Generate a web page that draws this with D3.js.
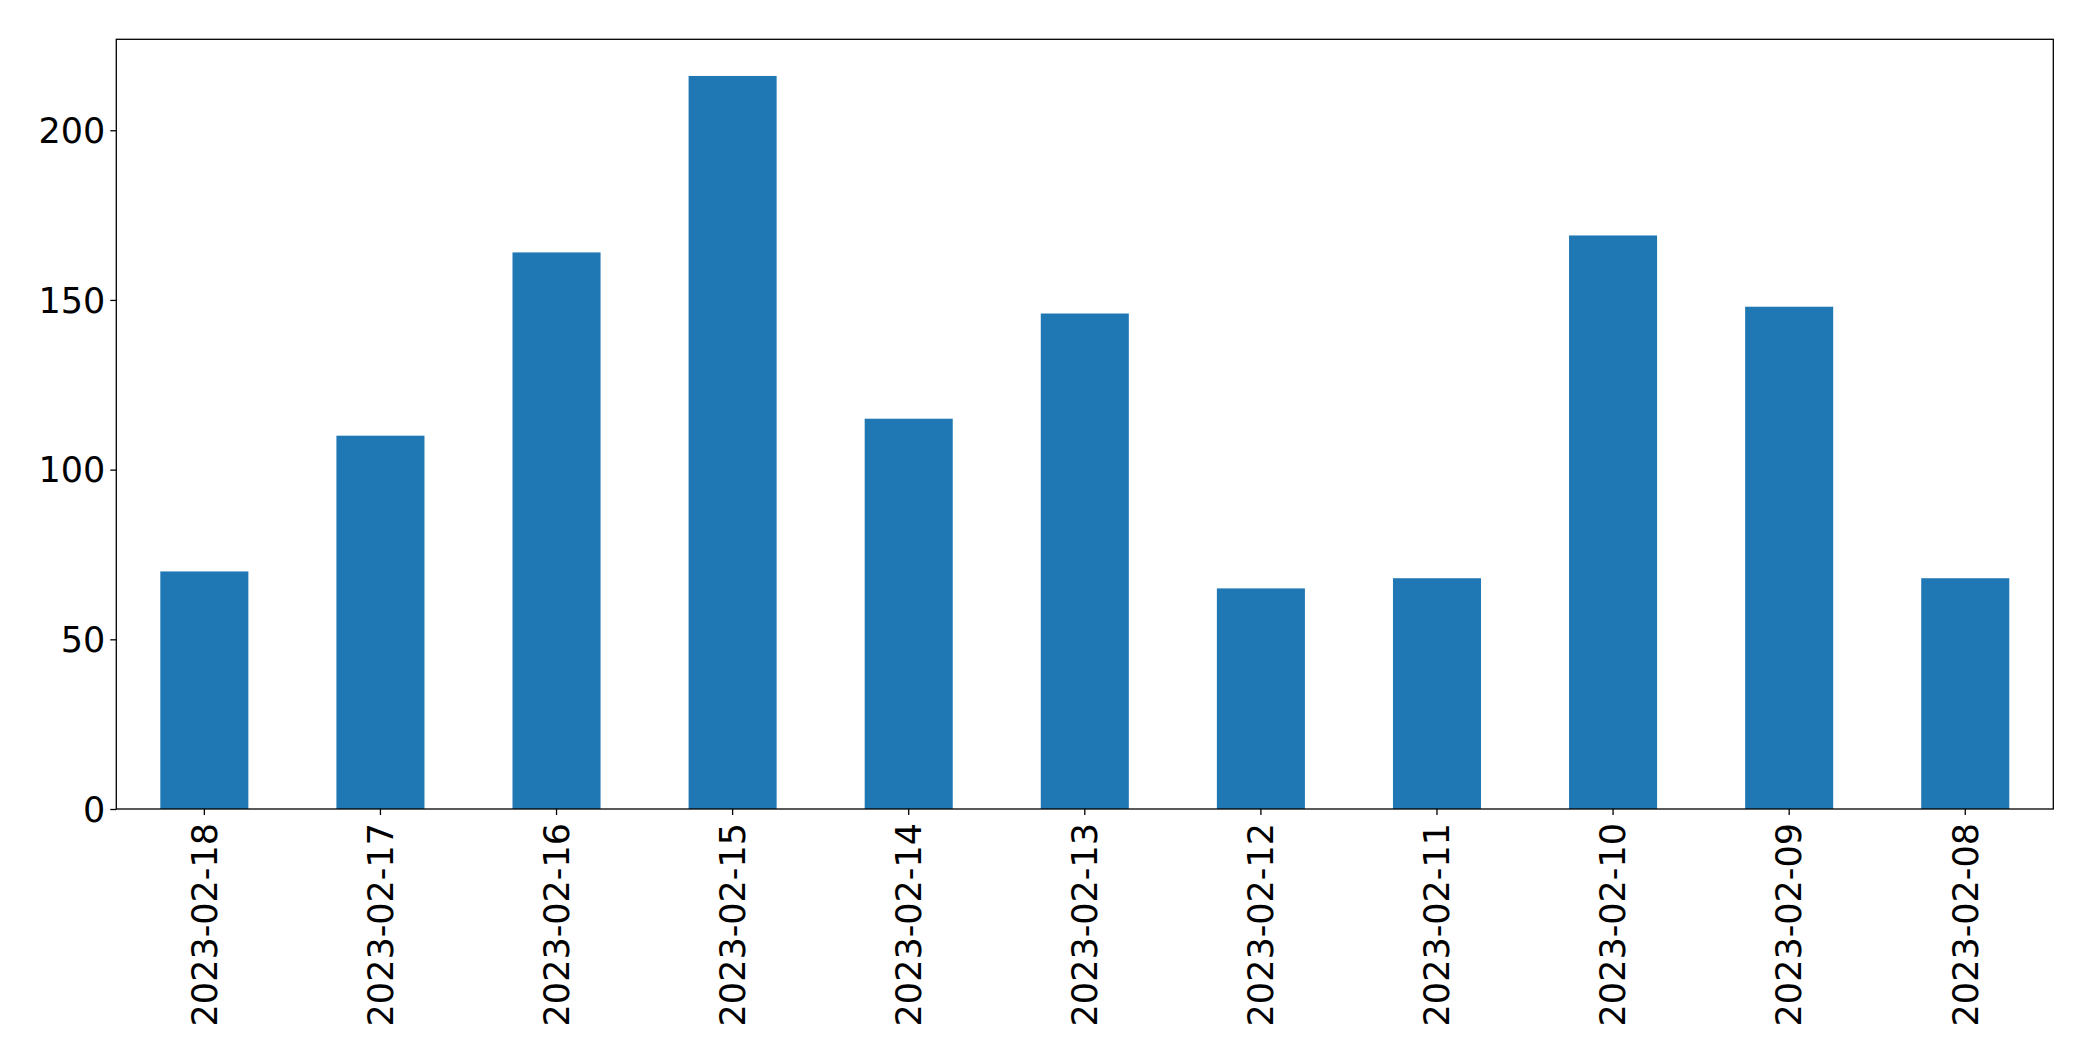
<!DOCTYPE html>
<html>
<head>
<meta charset="utf-8">
<script src="https://cdn.jsdelivr.net/npm/d3@7"></script>
<style>
html,body{margin:0;padding:0;background:#fff;}
svg{display:block;}
text{font-family:"DejaVu Sans",sans-serif;fill:#000;}
</style>
</head>
<body>
<svg id="chart" width="2093" height="1061"></svg>
<script>
const categories = ["2023-02-18","2023-02-17","2023-02-16","2023-02-15","2023-02-14","2023-02-13","2023-02-12","2023-02-11","2023-02-10","2023-02-09","2023-02-08"];
const values = [70,110,164,216,115,146,65,68,169,148,68];
const yTicks = [0,50,100,150,200];

(function () {
const svg = d3.select("#chart");
const mLeft = 116.3, mRight = 2053.3, mTop = 39.3, mBottom = 809;
const fontSize = 35;

const x = d3.scaleBand().domain(categories).range([mLeft, mRight]).paddingInner(0.5).paddingOuter(0.25);
const y = d3.scaleLinear().domain([0, d3.max(values) * 1.05]).range([mBottom, mTop]);

svg.append("g").selectAll("rect").data(values).join("rect")
  .attr("x", (d, i) => x(categories[i]))
  .attr("width", x.bandwidth())
  .attr("y", d => y(d))
  .attr("height", d => y(0) - y(d))
  .attr("fill", "#1f77b4");

// y axis
const yAxis = d3.axisLeft(y).tickValues(yTicks).tickSize(6).tickPadding(5).tickFormat(d3.format("d"));
const gy = svg.append("g").attr("transform", `translate(${mLeft},0)`).call(yAxis);
gy.select(".domain").remove();
gy.selectAll("line").attr("stroke", "#000").attr("stroke-width", 1.3);
gy.selectAll("text").attr("font-size", fontSize).attr("font-family", "DejaVu Sans").attr("dy", "0.35em");

// x axis
const xAxis = d3.axisBottom(x).tickSize(6).tickPadding(0);
const gx = svg.append("g").attr("transform", `translate(0,${mBottom})`).call(xAxis);
gx.select(".domain").remove();
gx.selectAll("line").attr("stroke", "#000").attr("stroke-width", 1.3);
gx.selectAll("text")
  .attr("font-size", fontSize)
  .attr("font-family", "DejaVu Sans")
  .attr("text-anchor", "end")
  .attr("transform", "translate(0,14) rotate(-90)")
  .attr("x", 0).attr("y", 0)
  .attr("dy", "0.35em");

// frame
svg.append("rect")
  .attr("x", mLeft).attr("y", mTop)
  .attr("width", mRight - mLeft).attr("height", mBottom - mTop)
  .attr("fill", "none").attr("stroke", "#000").attr("stroke-width", 1.3);
})();
</script>
</body>
</html>
